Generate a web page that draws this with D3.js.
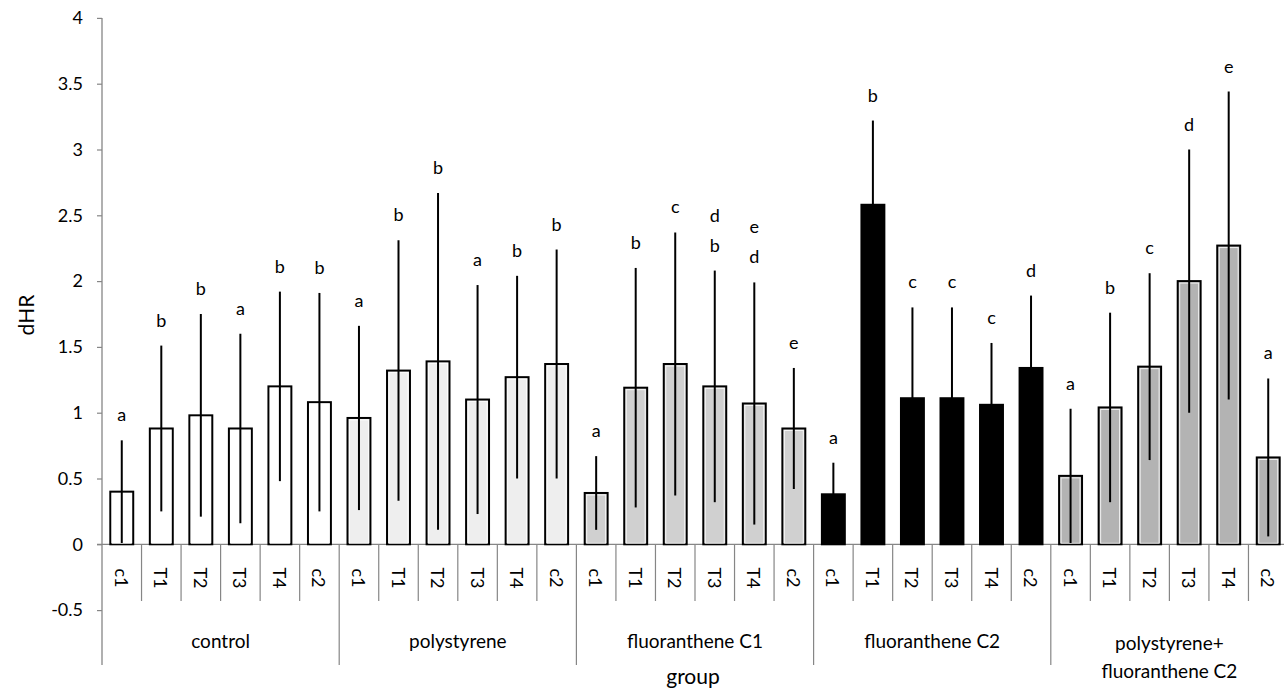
<!DOCTYPE html>
<html>
<head>
<meta charset="utf-8">
<script src="https://cdn.jsdelivr.net/npm/d3@7"></script>
<style>
  body { margin: 0; background: #fff; }
  text { font-family: Lato, "Open Sans", sans-serif; fill: #000; }
</style>
</head>
<body>
<div id="chart"></div>
<script>
const groups = ["control", "polystyrene", "fluoranthene C1", "fluoranthene C2", "polystyrene+\nfluoranthene C2"];
const categories = ["c1", "T1", "T2", "T3", "T4", "c2"];
const groupColors = ["#ffffff", "#eeeeee", "#d0d0d0", "#000000", "#b3b3b3"];

const means = [
  0.40, 0.88, 0.98, 0.88, 1.20, 1.08,
  0.96, 1.32, 1.39, 1.10, 1.27, 1.37,
  0.39, 1.19, 1.37, 1.20, 1.07, 0.88,
  0.38, 2.58, 1.11, 1.11, 1.06, 1.34,
  0.52, 1.04, 1.35, 2.00, 2.27, 0.66
];
const sds = [
  0.39, 0.63, 0.77, 0.72, 0.72, 0.83,
  0.70, 0.99, 1.28, 0.87, 0.77, 0.87,
  0.28, 0.91, 1.00, 0.88, 0.92, 0.46,
  0.24, 0.64, 0.69, 0.69, 0.47, 0.55,
  0.51, 0.72, 0.71, 1.00, 1.17, 0.60
];
const letters = [
  "a", "b", "b", "a", "b", "b",
  "a", "b", "b", "a", "b", "b",
  "a", "b", "c", "d\nb", "e\nd", "e",
  "a", "b", "c", "c", "c", "d",
  "a", "b", "c", "d", "e", "a"
];
const yTicks = [-0.5, 0, 0.5, 1, 1.5, 2, 2.5, 3, 3.5, 4];

const W = 1284, H = 689;
const left = 102, right = 1288;
const y0 = 544.3, yTop = 17.9;

const data = means.map((m, i) => ({
  id: i,
  group: Math.floor(i / categories.length),
  cat: categories[i % categories.length],
  mean: m,
  sd: sds[i],
  letter: letters[i]
}));

const svg = d3.select("#chart").append("svg")
  .attr("width", W).attr("height", H);

const x = d3.scaleBand()
  .domain(data.map(d => d.id))
  .range([left, right])
  .paddingInner(0.42)
  .paddingOuter(0.21);
const step = x.step();

const y = d3.scaleLinear()
  .domain([0, 4])
  .range([y0, yTop]);

// y axis
const yAxis = svg.append("g")
  .attr("transform", `translate(${left},0)`)
  .call(d3.axisLeft(y).tickValues(yTicks).tickSize(5).tickPadding(14)
    .tickFormat(d => String(d)));
yAxis.select(".domain").remove();
yAxis.selectAll(".tick line").attr("stroke", "#868686").attr("stroke-width", 1.2);
yAxis.selectAll(".tick text").style("font-size", "18px").attr("fill", "#000");

const axisColor = "#868686";
// vertical axis line runs down to bottom of group separators
svg.append("line")
  .attr("x1", left).attr("x2", left)
  .attr("y1", y(4)).attr("y2", 665)
  .attr("stroke", axisColor).attr("stroke-width", 1.3);

// zero line
svg.append("line")
  .attr("x1", left - 5).attr("x2", right)
  .attr("y1", y(0)).attr("y2", y(0))
  .attr("stroke", axisColor).attr("stroke-width", 1.3);

// category separators
d3.range(1, data.length + 1).forEach(k => {
  const xs = left + k * step;
  const isGroup = k % categories.length === 0;
  svg.append("line")
    .attr("x1", xs).attr("x2", xs)
    .attr("y1", y(0)).attr("y2", isGroup ? 665 : 601)
    .attr("stroke", axisColor).attr("stroke-width", 1.2);
});

// bars
const bars = svg.append("g");
bars.selectAll("rect.bar")
  .data(data)
  .enter()
  .append("rect")
  .attr("class", "bar")
  .attr("x", d => x(d.id))
  .attr("y", d => y(d.mean))
  .attr("width", x.bandwidth())
  .attr("height", d => y(0) - y(d.mean))
  .attr("fill", d => groupColors[d.group])
  .attr("stroke", "#000")
  .attr("stroke-width", 2);

// light inner edge, like the original
bars.selectAll("rect.inner")
  .data(data.filter(d => d.group !== 3))
  .enter()
  .append("rect")
  .attr("class", "inner")
  .attr("x", d => x(d.id) + 2)
  .attr("y", d => y(d.mean) + 2)
  .attr("width", x.bandwidth() - 4)
  .attr("height", d => Math.max(0, y(0) - y(d.mean) - 3))
  .attr("fill", "none")
  .attr("stroke", "#ffffff")
  .attr("stroke-opacity", 0.8)
  .attr("stroke-width", 1);

// error bars
svg.append("g").selectAll("line")
  .data(data)
  .enter()
  .append("line")
  .attr("x1", d => x(d.id) + x.bandwidth() / 2)
  .attr("x2", d => x(d.id) + x.bandwidth() / 2)
  .attr("y1", d => y(Math.max(0, d.mean - d.sd)))
  .attr("y2", d => y(d.mean + d.sd))
  .attr("stroke", "#000")
  .attr("stroke-width", 2);

// significance letters
const lab = svg.append("g");
data.forEach(d => {
  const lines = d.letter.split("\n");
  const cx = x(d.id) + x.bandwidth() / 2;
  const base = y(d.mean + d.sd) - 19;
  lines.forEach((t, j) => {
    lab.append("text")
      .attr("x", cx)
      .attr("y", base - (lines.length - 1 - j) * 30)
      .attr("text-anchor", "middle")
      .style("font-size", "18px")
      .text(t);
  });
});

// category tick labels (rotated)
svg.append("g").selectAll("text")
  .data(data)
  .enter()
  .append("text")
  .attr("transform", d => `translate(${x(d.id) + x.bandwidth() / 2},578) rotate(90)`)
  .attr("text-anchor", "middle")
  .attr("dominant-baseline", "central")
  .style("font-size", "18px")
  .text(d => d.cat);

// group labels
groups.forEach((g, i) => {
  const cx = left + (i + 0.5) * categories.length * step;
  const lines = g.split("\n");
  lines.forEach((t, j) => {
    svg.append("text")
      .attr("x", cx)
      .attr("y", (lines.length > 1 ? 642 : 640) + j * 28)
      .attr("text-anchor", "middle")
      .attr("dominant-baseline", "central")
      .style("font-size", "19px")
      .text(t);
  });
});

// axis titles
svg.append("text")
  .attr("x", 693).attr("y", 675)
  .attr("text-anchor", "middle")
  .attr("dominant-baseline", "central")
  .style("font-size", "21px")
  .text("group");

svg.append("text")
  .attr("transform", "translate(25,315) rotate(-90)")
  .attr("text-anchor", "middle")
  .attr("dominant-baseline", "central")
  .style("font-size", "21px")
  .text("dHR");
</script>
</body>
</html>
